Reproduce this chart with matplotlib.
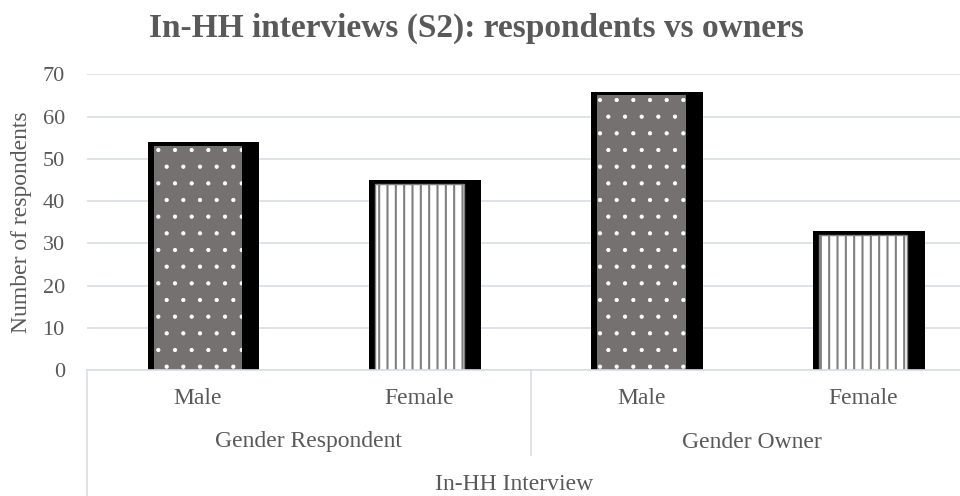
import matplotlib
matplotlib.use('Agg')
import matplotlib.pyplot as plt
from matplotlib.lines import Line2D

# data
genders = ['Male', 'Female', 'Male', 'Female']
groups = ['Gender Respondent', 'Gender Owner']
top_label = 'In-HH Interview'
counts = [53, 44, 65, 32]
yticks = [0, 10, 20, 30, 40, 50, 60, 70]

plt.rcParams['font.family'] = ['Liberation Serif', 'DejaVu Serif']
text_grey = '#595959'
grid_grey = '#d9dde3'

fig = plt.figure(figsize=(9.6, 4.96), dpi=100)
# plot area runs a little past the right edge of the figure
ax = fig.add_axes([87 / 960, 126 / 496, 887 / 960, 295.7 / 496])

x = list(range(len(counts)))
bar_w = 0.40

# black drop-shadow block behind each bar
for xi, v in zip(x, counts):
    ax.bar(xi - bar_w / 2 - 0.027, v + 1.42, width=bar_w + 0.104, bottom=-0.5,
           align='edge', color='black', linewidth=0, zorder=1)

for xi, v, g in zip(x, counts, genders):
    if g == 'Male':
        with plt.rc_context({'hatch.linewidth': 0.6}):
            ax.bar(xi, v, width=bar_w, facecolor='#767171', edgecolor='white',
                   hatch='.', linewidth=0, zorder=2)
    else:
        with plt.rc_context({'hatch.linewidth': 1.5}):
            ax.bar(xi, v, width=bar_w, facecolor='white', edgecolor='#7f7f7f',
                   hatch='||', linewidth=1, zorder=2)

ax.set_xlim(-0.5, len(counts) - 0.5)
ax.set_ylim(0, 70)
ax.set_yticks(yticks)
ax.set_xticks([])
ax.yaxis.grid(True, color=grid_grey, linewidth=1.2, zorder=0)
ax.set_axisbelow(True)
ax.tick_params(axis='y', length=0, pad=16, labelsize=16, labelcolor=text_grey)
for s in ['top', 'right', 'left']:
    ax.spines[s].set_visible(False)
ax.spines['bottom'].set_color(grid_grey)
ax.spines['bottom'].set_linewidth(1.2)
ax.spines['bottom'].set_zorder(3)

# multi-level category axis
trans = ax.get_xaxis_transform()
h = 295.7
for xi, g in zip(x, genders):
    ax.text(xi, -28 / h, g, transform=trans, ha='center', va='center',
            fontsize=17, color=text_grey)
for i, grp in enumerate(groups):
    ax.text(2 * i + 0.5, -72 / h, grp, transform=trans, ha='center', va='center',
            fontsize=17, color=text_grey)
ax.text(1.5 - 16 / 221.75, -114 / h, top_label, transform=trans, ha='center',
        va='center', fontsize=17, color=text_grey)

ax.add_line(Line2D([-0.5, -0.5], [0, -130 / h], transform=trans, color=grid_grey,
                   linewidth=1.2, clip_on=False))
ax.add_line(Line2D([1.5, 1.5], [0, -85 / h], transform=trans, color=grid_grey,
                   linewidth=1.2, clip_on=False))

fig.text(22 / 960, 1 - 222 / 496, 'Number of respondents', rotation=90,
         ha='center', va='center', fontsize=17, color=text_grey)
fig.text(476 / 960, 1 - 28 / 496, 'In-HH interviews (S2): respondents vs owners',
         ha='center', va='center', fontsize=24, fontweight='bold', color=text_grey)

fig.savefig('out.png', dpi=100)
